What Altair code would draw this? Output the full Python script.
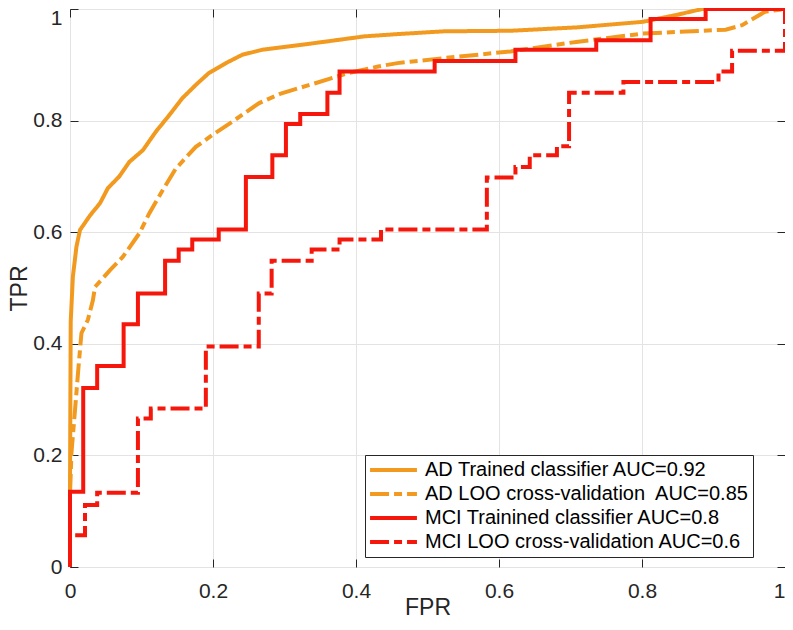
import altair as alt
import pandas as pd

# ---------------- data ----------------
series_names = [
    "AD Trained classifier AUC=0.92",
    "AD LOO cross-validation\u00a0 AUC=0.85",
    "MCI Trainined classifier AUC=0.8",
    "MCI LOO cross-validation AUC=0.6",
]
series_colors = ["#F29A1F", "#F29A1F", "#F5170B", "#F5170B"]
series_dashes = [[1, 0], [19, 5, 8, 5], [1, 0], [19, 5, 8, 5]]
series_interp = ["linear", "linear", "step-after", "step-after"]

ad_trained_fpr = [0, 0, 0.001, 0.004, 0.009, 0.014, 0.028, 0.042, 0.053, 0.069,
                  0.083, 0.102, 0.120, 0.139, 0.157, 0.176, 0.194, 0.218, 0.241,
                  0.269, 0.319, 0.366, 0.412, 0.458, 0.523, 0.616, 0.708, 0.801,
                  0.847, 0.884, 1.0]
ad_trained_tpr = [0, 0.14, 0.44, 0.52, 0.574, 0.604, 0.63, 0.652, 0.679, 0.700,
                  0.726, 0.747, 0.780, 0.810, 0.840, 0.864, 0.885, 0.903, 0.918,
                  0.927, 0.935, 0.943, 0.951, 0.955, 0.960, 0.961, 0.967, 0.977,
                  0.989, 1.0, 1.0]

ad_loo_fpr = [0, 0, 0.002, 0.007, 0.012, 0.016, 0.025, 0.032, 0.035, 0.056,
              0.074, 0.097, 0.111, 0.130, 0.148, 0.176, 0.199, 0.227, 0.264,
              0.296, 0.343, 0.389, 0.431, 0.458, 0.523, 0.616, 0.708, 0.801,
              0.917, 0.940, 0.972, 1.0]
ad_loo_tpr = [0, 0.13, 0.204, 0.281, 0.36, 0.419, 0.443, 0.478, 0.502, 0.532,
              0.556, 0.598, 0.634, 0.676, 0.714, 0.753, 0.774, 0.798, 0.831,
              0.849, 0.867, 0.885, 0.897, 0.903, 0.912, 0.924, 0.941, 0.956,
              0.963, 0.971, 0.995, 1.0]

mci_trained_fpr = [0, 0, 0.0185, 0.038, 0.075, 0.095, 0.133, 0.152, 0.171, 0.208,
                   0.246, 0.283, 0.302, 0.322, 0.36, 0.377, 0.51, 0.623, 0.736,
                   0.812, 0.889, 1.0]
mci_trained_tpr = [0, 0.135, 0.321, 0.36, 0.435, 0.49, 0.549, 0.569, 0.587, 0.605,
                   0.699, 0.738, 0.794, 0.812, 0.85, 0.888, 0.907, 0.927, 0.944,
                   0.982, 1.0, 1.0]

mci_loo_fpr = [0, 0, 0.021, 0.038, 0.095, 0.113, 0.19, 0.264, 0.282, 0.338,
               0.377, 0.435, 0.583, 0.623, 0.643, 0.681, 0.698, 0.774, 0.907,
               0.926, 1.0]
mci_loo_tpr = [0, 0.057, 0.111, 0.133, 0.266, 0.284, 0.395, 0.49, 0.549, 0.569,
               0.587, 0.605, 0.698, 0.717, 0.738, 0.754, 0.850, 0.869, 0.888,
               0.925, 1.0]

tick_values = [0, 0.2, 0.4, 0.6, 0.8, 1]

all_fpr = [ad_trained_fpr, ad_loo_fpr, mci_trained_fpr, mci_loo_fpr]
all_tpr = [ad_trained_tpr, ad_loo_tpr, mci_trained_tpr, mci_loo_tpr]

# ---------------- chart ----------------
FONT = "Liberation Sans"
INK = "#262626"
W, H = 715, 558

x_scale = alt.Scale(domain=[0, 1], nice=False, zero=False)
y_scale = alt.Scale(domain=[0, 1], nice=False, zero=False)
color_scale = alt.Scale(domain=series_names, range=series_colors)
dash_scale = alt.Scale(domain=series_names, range=series_dashes)

legend = alt.Legend(
    title=None, orient="none", legendX=295, legendY=446,
    symbolType="stroke", symbolSize=2200, symbolStrokeWidth=4,
    clipHeight=24, rowPadding=0, padding=3,
    labelFont=FONT, labelFontSize=20, labelColor="#000000", labelLimit=600,
    labelOffset=6, strokeColor=INK, fillColor="white",
    labelExpr="datum.label + '\u00a0\u00a0\u00a0\u00a0\u00a0'",
)

# axis sets
main_x = alt.Axis(orient="bottom", values=tick_values, format="~g", grid=True,
                  gridColor="#E3E3E3", gridWidth=1, ticks=False, tickSize=0,
                  domain=False, labelFont=FONT, labelFontSize=21, labelColor=INK,
                  labelPadding=13, labelFlush=False, labelOverlap=False,
                  labelOffset={"condition": {"test": "datum.value == 1", "value": -6}, "value": 0},
                  title="FPR", titleFont=FONT, titleFontSize=23,
                  titleFontWeight="normal", titleColor=INK, titleX=W / 2, titleY=47,
                  titleBaseline="alphabetic", titleAlign="center")
main_y = alt.Axis(orient="left", values=tick_values, format="~g", grid=True,
                  gridColor="#E3E3E3", gridWidth=1, ticks=False, tickSize=0,
                  domain=False, labelFont=FONT, labelFontSize=21, labelColor=INK,
                  labelPadding=8, labelFlush=False, labelOverlap=False,
                  labelOffset={"condition": {"test": "datum.value == 1", "value": 9}, "value": 0},
                  title="TPR", titleFont=FONT, titleFontSize=23,
                  titleFontWeight="normal", titleColor=INK, titleAngle=270,
                  titleX=-44, titleY=H / 2, titleBaseline="alphabetic",
                  titleAlign="center")
# inward ticks on bottom / left edges
in_bottom = alt.Axis(orient="top", offset=-H, values=tick_values, labels=False,
                     domain=False, grid=False, ticks=True, tickSize=8,
                     tickColor=INK, tickWidth=1, title=None)
in_left = alt.Axis(orient="right", offset=-W, values=tick_values, labels=False,
                   domain=False, grid=False, ticks=True, tickSize=8,
                   tickColor=INK, tickWidth=1, title=None)
# inward ticks on top / right edges
in_top = alt.Axis(orient="bottom", offset=-H, values=tick_values, labels=False,
                  domain=False, grid=False, ticks=True, tickSize=8,
                  tickColor=INK, tickWidth=1, title=None)
in_right = alt.Axis(orient="left", offset=-W, values=tick_values, labels=False,
                    domain=False, grid=False, ticks=True, tickSize=8,
                    tickColor=INK, tickWidth=1, title=None)

axis_sets = [(main_x, main_y), (in_bottom, in_left), (in_top, in_right), (None, None)]

layers = []
for i, name in enumerate(series_names):
    df = pd.DataFrame({
        "fpr": all_fpr[i],
        "tpr": all_tpr[i],
        "series": name,
        "idx": list(range(len(all_fpr[i]))),
    })
    ax_x, ax_y = axis_sets[i]
    layer = alt.Chart(df).mark_line(
        strokeWidth=4, interpolate=series_interp[i], strokeCap="butt", strokeJoin="miter"
    ).encode(
        x=alt.X("fpr:Q", scale=x_scale, axis=ax_x),
        y=alt.Y("tpr:Q", scale=y_scale, axis=ax_y),
        color=alt.Color("series:N", scale=color_scale, legend=legend),
        strokeDash=alt.StrokeDash("series:N", scale=dash_scale, legend=legend),
        order=alt.Order("idx:Q"),
    )
    layers.append(layer)

chart = alt.layer(*layers).resolve_axis(
    x="independent", y="independent"
).properties(
    width=W, height=H,
    autosize=alt.AutoSizeParams(type="none"),
    padding={"left": 62, "top": 1, "right": 0, "bottom": 52},
    background="white",
).configure_view(
    stroke=INK, strokeWidth=1
)

chart.save("out.html", embed_options={"renderer": "svg", "actions": False})
